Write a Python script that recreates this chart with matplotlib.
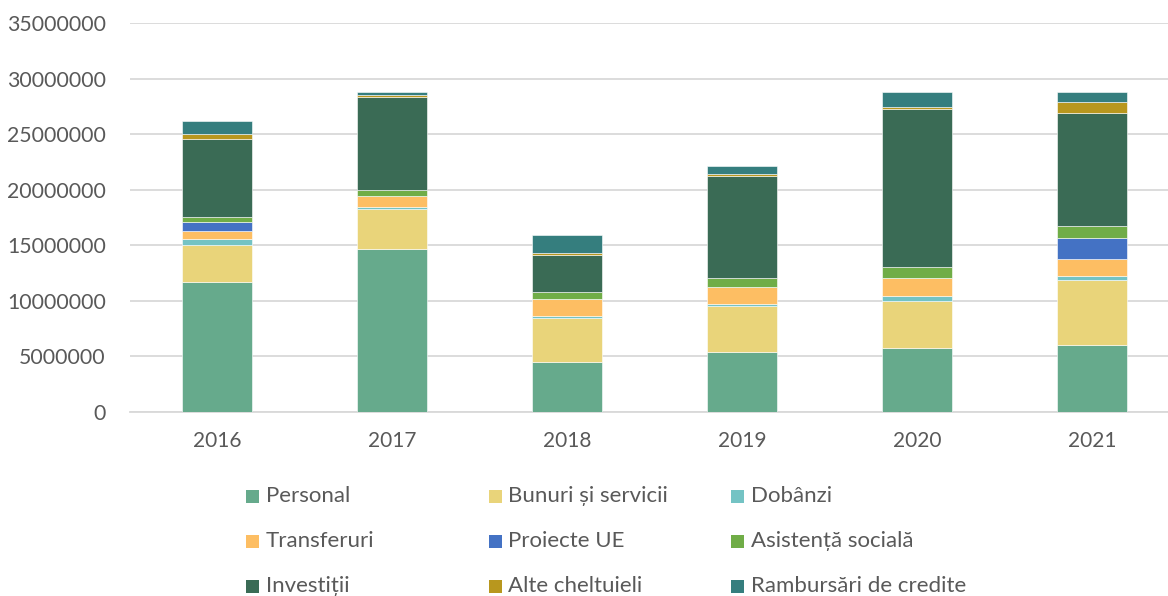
import matplotlib
matplotlib.use("Agg")
import matplotlib.pyplot as plt
from matplotlib.patches import Rectangle
from matplotlib.ticker import FuncFormatter, MultipleLocator
import numpy as np

plt.rcParams['font.family'] = ['Lato', 'DejaVu Sans']

years = ["2016", "2017", "2018", "2019", "2020", "2021"]

series_names = [
    "Personal", "Bunuri și servicii", "Dobânzi",
    "Transferuri", "Proiecte UE", "Asistență socială",
    "Investiții", "Alte cheltuieli", "Rambursări de credite",
]

personal = [11670000, 14640000, 4450000, 5400000, 5730000, 6000000]
bunuri_servicii = [3330000, 3580000, 3980000, 4110000, 4260000, 5850000]
dobanzi = [570000, 200000, 210000, 210000, 450000, 360000]
transferuri = [690000, 1000000, 1500000, 1480000, 1590000, 1510000]
proiecte_ue = [790000, 0, 0, 0, 0, 1880000]
asistenta_sociala = [470000, 550000, 610000, 800000, 1000000, 1110000]
investitii = [7030000, 8350000, 3350000, 9190000, 14250000, 10200000]
alte_cheltuieli = [470000, 200000, 180000, 210000, 200000, 970000]
rambursari_credite = [1150000, 300000, 1620000, 740000, 1330000, 920000]

series_values = [
    personal, bunuri_servicii, dobanzi,
    transferuri, proiecte_ue, asistenta_sociala,
    investitii, alte_cheltuieli, rambursari_credite,
]

colors = [
    "#66AA8C", "#E9D47A", "#74C3C4",
    "#FDBE63", "#4472C4", "#70AD47",
    "#3A6B55", "#B8971E", "#357E7E",
]

W, H = 1168, 596
fig = plt.figure(figsize=(W / 100, H / 100), dpi=100)
ax = fig.add_axes([129.5 / W, (H - 411.7) / H, 1050 / W, (411.7 - 23) / H])

x = np.arange(len(years))
bottom = np.zeros(len(years))
for name, vals, col in zip(series_names, series_values, colors):
    v = np.array(vals, dtype=float)
    ax.bar(x, v, width=0.4, bottom=bottom, color=col, edgecolor="white",
           linewidth=0.4, zorder=3, label=name)
    bottom += v

ax.set_xlim(-0.5, len(years) - 0.5)
ax.set_ylim(0, 35000000)
ax.yaxis.set_major_locator(MultipleLocator(5000000))
ax.yaxis.set_major_formatter(FuncFormatter(lambda v, p: f"{int(v)}"))
ax.set_xticks(x)
ax.set_xticklabels(years)

ax.grid(axis="y", color="#D9D9D9", linewidth=1.3, zorder=0)
for s in ["top", "right", "left"]:
    ax.spines[s].set_visible(False)
ax.spines["bottom"].set_color("#D9D9D9")
ax.spines["bottom"].set_linewidth(1.3)
ax.tick_params(axis="both", length=0, labelsize=15, labelcolor="#595959")
ax.tick_params(axis="y", pad=17, labelsize=15.3)
ax.tick_params(axis="x", pad=14)

# Legend laid out as a 3x3 grid of colour swatches and labels
col_x = [246, 488.5, 731]
row_y = [496, 541, 586]
sw = 13
for i, (name, col) in enumerate(zip(series_names, colors)):
    r, c = divmod(i, 3)
    px, py = col_x[c], row_y[r]
    fig.patches.append(Rectangle((px / W, (H - py - sw / 2) / H), sw / W, sw / H,
                                 transform=fig.transFigure, facecolor=col,
                                 edgecolor="none"))
    fig.text((px + 20) / W, (H - py) / H, name, fontsize=16, color="#595959",
             ha="left", va="center")

fig.savefig("out.png", dpi=100)
